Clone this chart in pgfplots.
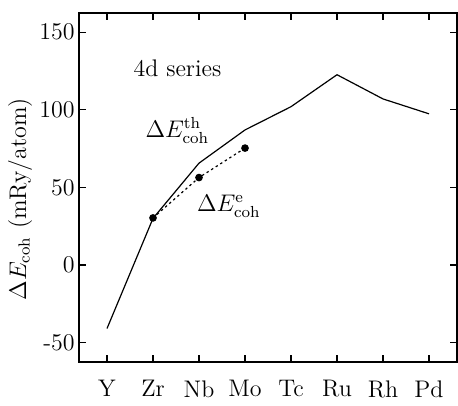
\documentclass[border=0pt]{standalone}
\usepackage{pgfplots}
\pgfplotsset{compat=1.18}
\begin{document}
\fontsize{12}{14.4}\selectfont
\begin{tikzpicture}
\begin{axis}[
 scale only axis, width=189pt, height=174.5pt,
 xmin=-0.609, xmax=7.609, ymin=-62.6, ymax=162.4,
 xtick={0,...,7}, xticklabels={Y,Zr,Nb,Mo,Tc,Ru,Rh,Pd},
 ytick={-50,0,50,100,150}, yticklabels={-50,0,50,100,150},
 tick align=inside, major tick length=3.5pt,
 axis line style={line width=0.7pt},
 tick style={line width=0.6pt, black},
 xticklabel style={yshift=-5pt},
 yticklabel style={xshift=2pt},
 ylabel={$\Delta E_{\rm coh}$ (mRy/atom)},
 every axis y label/.style={at={(axis description cs:-0.156,0.467)}, rotate=90, anchor=center},
 clip=false,
]
\addplot[black, line width=0.6pt] coordinates {(0,-41)(1,30)(2,65.6)(3,87)(4,102)(5,122.6)(6,107)(7,97.4)};
\addplot[black, line width=0.6pt, dash pattern=on 1.2pt off 1.5pt, mark=*, mark size=1.6pt, mark options={solid}] coordinates {(1,30.3)(2,56.3)(3,75.3)};
\node[anchor=west, inner sep=0] at (axis cs:0.57,126.5) {4d series};
\node[anchor=west, inner sep=0] at (axis cs:0.83,86.5) {$\Delta E^{\rm th}_{\rm coh}$};
\node[anchor=west, inner sep=0] at (axis cs:1.95,37.7) {$\Delta E^{\rm e}_{\rm coh}$};
\end{axis}
\path ([xshift=-39.5pt,yshift=-16pt]current axis.south west) rectangle ([xshift=0.5pt,yshift=6.5pt]current axis.north east);
\end{tikzpicture}
\end{document}
